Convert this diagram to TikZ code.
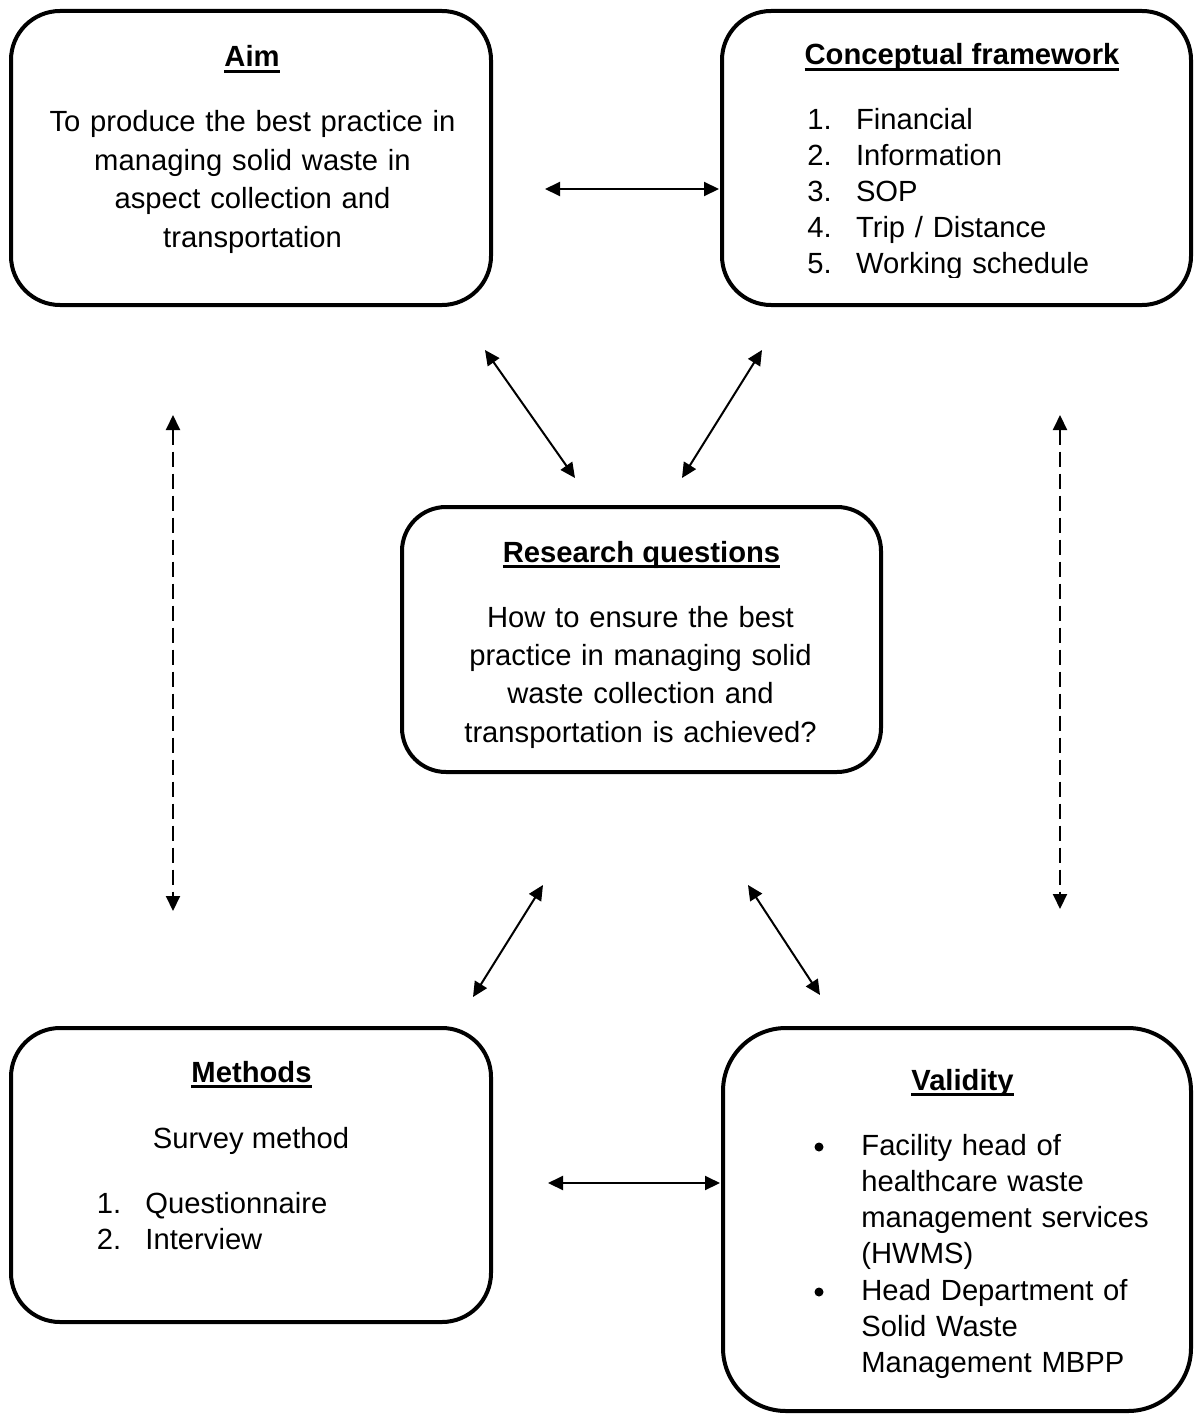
\documentclass[tikz,border=0pt]{standalone}
\usepackage{fontspec}
\setmainfont{Liberation Sans}
\usetikzlibrary{arrows.meta}
\newcommand{\uhead}[1]{\setbox0\hbox{\bfseries #1}\rlap{\rule[-2.8pt]{\wd0}{1.5pt}}\box0}
\newcommand{\listno}[1]{\makebox[24.3pt][l]{#1}}
\tikzset{%
    box/.style={draw,line width=2pt,inner sep=0pt,shape=rectangle},
    headtext/.style={anchor=base,inner sep=0pt,font=\fontsize{14.6pt}{17.5pt}\selectfont},
    centertext/.style={anchor=base,inner sep=0pt,text width=230pt,align=center,font=\fontsize{14.6pt}{19.2pt}\selectfont},
    listtext/.style={anchor=base west,inner sep=0pt,text width=200pt,align=left,font=\fontsize{14.6pt}{18pt}\selectfont},
    dot/.style={circle,fill,inner sep=0pt,minimum size=4.5pt},
    link/.style={<->,line width=1pt},
    dashlink/.style={<->,line width=1pt,dash pattern=on 7.5pt off 3.5pt},
}
\begin{document}
\begin{tikzpicture}[x=0.5pt,y=-0.5pt,>={Triangle[length=7.5pt,width=7pt]}]
        \path[use as bounding box,fill=white] (0,0) rectangle (1200,1418);

        \node[box,rounded corners=24.5pt,minimum width=240pt,minimum height=147pt] (aim) at (251,158) {};
        \node[box,rounded corners=24.5pt,minimum width=234.5pt,minimum height=147pt] (cf) at (956.5,158) {};
        \node[box,rounded corners=22pt,minimum width=239.5pt,minimum height=132.5pt] (rq) at (641.5,639.5) {};
        \node[box,rounded corners=24.5pt,minimum width=240pt,minimum height=147pt] (mt) at (251,1175) {};
        \node[box,rounded corners=31.5pt,minimum width=234pt,minimum height=191.5pt] (vd) at (957,1219.5) {};

        \node[headtext] (aimT) at (252,67) {\uhead{Aim}};
        \node[centertext] (aimB) at (252.5,132) {To produce the best practice in\\managing solid waste in\\aspect collection and\\transportation};

        \node[headtext] (cfT) at (962,65) {\uhead{Conceptual framework}};
        \begin{scope}
          \clip (722,11) rectangle (1191,277);
          \node[listtext,font=\fontsize{14.6pt}{17.9pt}\selectfont] (cfL) at (807,130) {\listno{1.}Financial\\\listno{2.}Information\\\listno{3.}SOP\\\listno{4.}Trip / Distance\\\listno{5.}Working schedule};
        \end{scope}

        \node[headtext] (rqT) at (641.5,562) {\uhead{Research questions}};
        \node[centertext] (rqB) at (640.5,627) {How to ensure the best\\practice in managing solid\\waste collection and\\transportation is achieved?};

        \node[headtext] (mtT) at (251.5,1082) {\uhead{Methods}};
        \node[headtext] (mtS) at (251,1148) {Survey method};
        \node[listtext] (mtL) at (96.5,1213) {\listno{1.}Questionnaire\\\listno{2.}Interview};

        \node[headtext] (vdT) at (962.5,1090) {\uhead{Validity}};
        \node[dot] (vdD1) at (819,1147) {};
        \node[listtext,font=\fontsize{14.6pt}{18.1pt}\selectfont] (vdA) at (861,1155) {Facility head of\\healthcare waste\\management services\\(HWMS)};
        \node[dot] (vdD2) at (819,1292) {};
        \node[listtext,font=\fontsize{14.6pt}{18.1pt}\selectfont] (vdB) at (861,1300) {Head Department of\\Solid Waste\\Management MBPP};

        \coordinate (aimR) at (545,189);
        \coordinate (cfL) at (719,189);
        \draw[link] (aimR) -- (cfL);
        \coordinate (aimD) at (485,350);
        \coordinate (rqUL) at (575,478);
        \draw[link] (aimD) -- (rqUL);
        \coordinate (cfD) at (762,350);
        \coordinate (rqUR) at (682,478);
        \draw[link] (cfD) -- (rqUR);
        \coordinate (rqDL) at (543,885);
        \coordinate (mtU) at (473,997);
        \draw[link] (rqDL) -- (mtU);
        \coordinate (rqDR) at (748,885);
        \coordinate (vdU) at (820,995);
        \draw[link] (rqDR) -- (vdU);
        \coordinate (mtR) at (548,1183);
        \coordinate (vdL) at (720,1183);
        \draw[link] (mtR) -- (vdL);

        \coordinate (aimS) at (173,415);
        \coordinate (mtN) at (173,911);
        \draw[dashlink] (aimS) -- (mtN);
        \coordinate (cfS) at (1060,415);
        \coordinate (vdN) at (1060,909);
        \draw[dashlink] (cfS) -- (vdN);
      \end{tikzpicture}
\end{document}
